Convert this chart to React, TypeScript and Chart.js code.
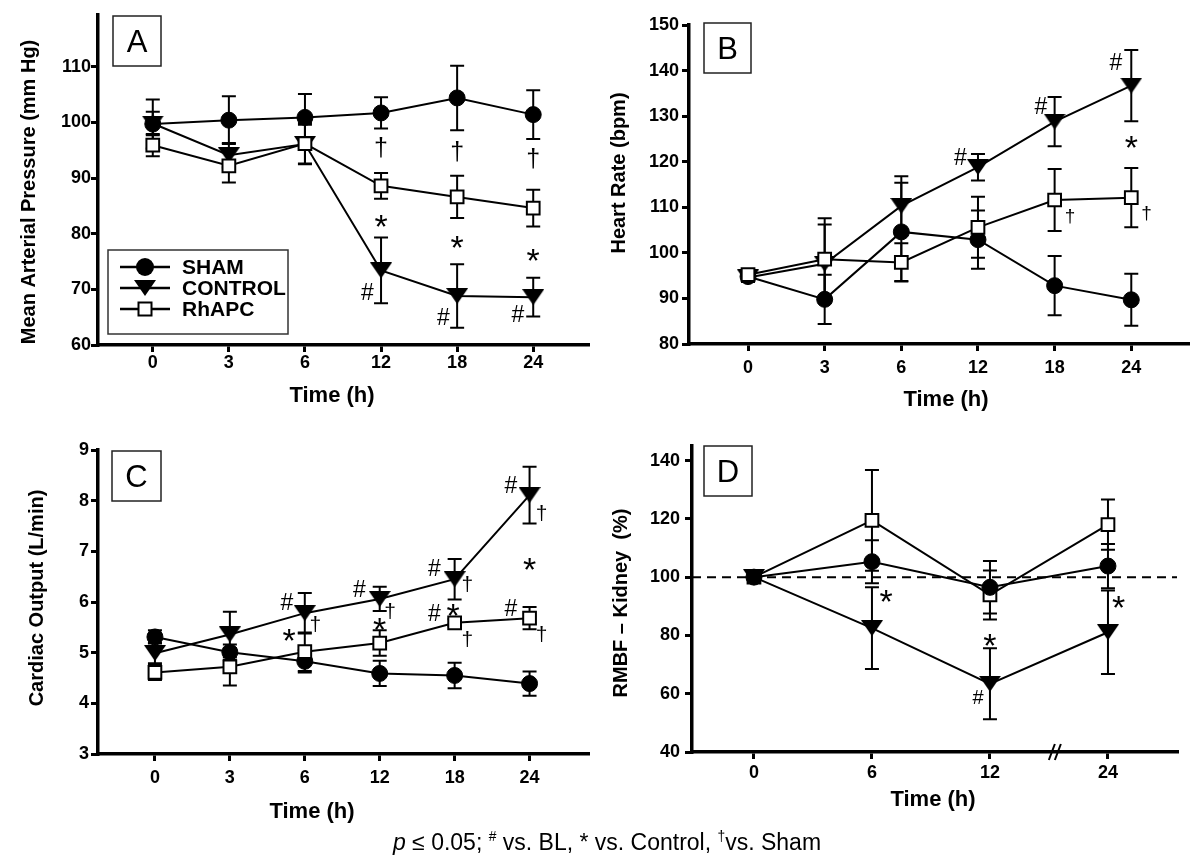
import React, { useEffect, useRef } from "react";
import { Chart, registerables } from "chart.js";

Chart.register(...registerables);

const FONT = "'Liberation Sans', Arial, Helvetica, sans-serif";

// ---------------- Data ----------------
const groupNames = ["SHAM", "CONTROL", "RhAPC"];

// Panel A – Mean Arterial Pressure
const timeLabelsA = ["0", "3", "6", "12", "18", "24"];
const ticksA = [60, 70, 80, 90, 100, 110];
const mapSham = [99.7, 100.4, 100.9, 101.7, 104.4, 101.4];
const mapShamErr = [4.4, 4.3, 4.2, 2.8, 5.8, 4.4];
const mapControl = [99.8, 94.1, 96.1, 73.4, 68.8, 68.6];
const mapControlErr = [2.1, 2.2, 3.5, 5.9, 5.7, 3.5];
const mapRhapc = [95.9, 92.2, 96.2, 88.6, 86.6, 84.6];
const mapRhapcErr = [2.0, 3.0, 3.7, 2.3, 3.8, 3.3];
const annA: [string, number, number][] = [
  ["†", 3, 95.3], ["†", 4, 94.6], ["†", 5, 93.4],
  ["*", 3, 82.6], ["*", 4, 78.9], ["*", 5, 76.5],
  ["#", 2.82, 69.6], ["#", 3.82, 65.1], ["#", 4.8, 65.7],
];

// Panel B – Heart Rate
const timeLabelsB = ["0", "3", "6", "12", "18", "24"];
const ticksB = [80, 90, 100, 110, 120, 130, 140, 150];
const hrSham = [94.8, 89.8, 104.6, 102.9, 92.8, 89.7];
const hrShamErr = [1.0, 5.4, 10.8, 6.4, 6.5, 5.7];
const hrControl = [94.6, 97.6, 110.3, 118.8, 128.8, 136.7];
const hrControlErr = [1.0, 8.6, 6.5, 2.9, 5.4, 7.8];
const hrRhapc = [95.2, 98.6, 97.9, 105.6, 111.6, 112.1];
const hrRhapcErr = [1.2, 9.0, 4.2, 6.7, 6.8, 6.5];
const annB: [string, number, number][] = [
  ["#", 2.77, 121.1], ["#", 3.82, 132.2], ["#", 4.8, 141.9],
  ["*", 5, 124.8], ["†", 4.2, 108.0], ["†", 5.2, 108.7],
];

// Panel C – Cardiac Output
const timeLabelsC = ["0", "3", "6", "12", "18", "24"];
const ticksC = [3, 4, 5, 6, 7, 8, 9];
const coSham = [5.31, 5.01, 4.83, 4.59, 4.55, 4.39];
const coShamErr = [0.13, 0.15, 0.22, 0.25, 0.25, 0.24];
const coControl = [4.99, 5.36, 5.78, 6.06, 6.45, 8.11];
const coControlErr = [0.2, 0.45, 0.4, 0.24, 0.4, 0.56];
const coRhapc = [4.61, 4.72, 5.02, 5.19, 5.59, 5.68];
const coRhapcErr = [0.15, 0.37, 0.38, 0.25, 0.07, 0.22];
const annC: [string, number, number][] = [
  ["#", 1.76, 6.0], ["†", 2.14, 5.55], ["*", 1.79, 5.38],
  ["#", 2.73, 6.27], ["†", 3.14, 5.81], ["*", 3.0, 5.61],
  ["#", 3.73, 6.67], ["†", 4.17, 6.34],
  ["#", 3.73, 5.78], ["*", 3.98, 5.88], ["†", 4.17, 5.25],
  ["#", 4.75, 8.31], ["†", 5.16, 7.75], ["*", 5.0, 6.8],
  ["#", 4.75, 5.88], ["†", 5.16, 5.35],
];

// Panel D – RMBF Kidney
const timeLabelsD = ["0", "6", "12", "24"];
const ticksD = [40, 60, 80, 100, 120, 140];
const rmbfSham = [100, 105.3, 96.5, 103.8];
const rmbfShamErr = [0, 7.4, 9.0, 7.6];
const rmbfControl = [100, 82.5, 63.4, 81.1];
const rmbfControlErr = [0, 14.0, 12.2, 14.3];
const rmbfRhapc = [100, 119.5, 93.9, 118.0];
const rmbfRhapcErr = [0, 17.3, 8.4, 8.6];
const baselineD = 100;
const axisBreakD = 2.55;
const annD: [string, number, number][] = [
  ["*", 1.12, 94.2], ["*", 2, 79.0], ["#", 1.9, 59.1], ["*", 3.09, 92.2],
];

// ---------------- Panel definitions ----------------
type Kind = "sham" | "control" | "rhapc";
type Series = { name: string; kind: Kind; values: number[]; errors: number[] };

interface PanelDef {
  letter: string;
  xLabels: string[];
  yTicks: number[];
  yMin: number;
  yMax: number;
  xMin: number;
  xMax: number;
  yTitle: string;
  xTitle: string;
  series: Series[];
  anns: [string, number, number][];
  legend?: boolean;
  baseline?: number;
  axisBreak?: number;
  shamOnTop?: boolean;
  annSizes: Record<string, number>;
  L: {
    left: number; top: number; width: number; height: number;
    padTop: number; padRight: number; yAxisWidth: number; xAxisHeight: number;
    xTickPad: number; yTickPad: number;
    yTitleX: number; yTitleY: number; xTitleX: number; xTitleY: number;
    box: [number, number, number, number];
  };
}

const mk = (vals: number[][], errs: number[][]): Series[] =>
  (["sham", "control", "rhapc"] as Kind[]).map((k, i) => ({
    name: groupNames[i], kind: k, values: vals[i], errors: errs[i],
  }));

const PANELS: PanelDef[] = [
  {
    letter: "A", xLabels: timeLabelsA, yTicks: ticksA, yMin: 60, yMax: 119.3,
    xMin: -0.72, xMax: 5.72,
    yTitle: "Mean Arterial Pressure (mm Hg)", xTitle: "Time (h)",
    series: mk([mapSham, mapControl, mapRhapc], [mapShamErr, mapControlErr, mapRhapcErr]),
    anns: annA, legend: true,
    annSizes: { "#": 23, "*": 34, "†": 25 },
    L: {
      left: 0, top: 0, width: 600, height: 420, padTop: 15, padRight: 12,
      yAxisWidth: 98, xAxisHeight: 75, xTickPad: 0, yTickPad: 0,
      yTitleX: 29, yTitleY: 192, xTitleX: 332, xTitleY: 396, box: [113, 16, 48, 50],
    },
  },
  {
    letter: "B", xLabels: timeLabelsB, yTicks: ticksB, yMin: 80, yMax: 150,
    xMin: -0.77, xMax: 5.74,
    yTitle: "Heart Rate (bpm)", xTitle: "Time (h)",
    series: mk([hrSham, hrControl, hrRhapc], [hrShamErr, hrControlErr, hrRhapcErr]),
    anns: annB,
    annSizes: { "#": 23, "*": 34, "†": 19 },
    L: {
      left: 600, top: 0, width: 600, height: 420, padTop: 25, padRight: 12,
      yAxisWidth: 89, xAxisHeight: 76, xTickPad: 6, yTickPad: 3,
      yTitleX: 19, yTitleY: 173, xTitleX: 346, xTitleY: 400, box: [104, 23, 47, 50],
    },
  },
  {
    letter: "C", xLabels: timeLabelsC, yTicks: ticksC, yMin: 3, yMax: 9,
    xMin: -0.76, xMax: 5.78,
    yTitle: "Cardiac Output (L/min)", xTitle: "Time (h)",
    series: mk([coSham, coControl, coRhapc], [coShamErr, coControlErr, coRhapcErr]),
    anns: annC,
    annSizes: { "#": 23, "*": 34, "†": 21 },
    L: {
      left: 0, top: 420, width: 600, height: 443, padTop: 30, padRight: 12,
      yAxisWidth: 98, xAxisHeight: 109, xTickPad: 6, yTickPad: 2,
      yTitleX: 37, yTitleY: 178, xTitleX: 312, xTitleY: 392, box: [112, 31, 49, 50],
    },
  },
  {
    letter: "D", xLabels: timeLabelsD, yTicks: ticksD, yMin: 40, yMax: 145,
    xMin: -0.525, xMax: 3.585,
    yTitle: "RMBF – Kidney  (%)", xTitle: "Time (h)",
    series: mk([rmbfSham, rmbfControl, rmbfRhapc], [rmbfShamErr, rmbfControlErr, rmbfRhapcErr]),
    anns: annD, baseline: baselineD, axisBreak: axisBreakD, shamOnTop: true,
    annSizes: { "#": 20, "*": 34, "†": 21 },
    L: {
      left: 600, top: 420, width: 600, height: 443, padTop: 26, padRight: 23,
      yAxisWidth: 92, xAxisHeight: 111, xTickPad: 3, yTickPad: 5,
      yTitleX: 21, yTitleY: 183, xTitleX: 333, xTitleY: 380, box: [104, 26, 48, 50],
    },
  },
];

// ---------------- Drawing helpers ----------------
function makeTriangle(w: number, h: number): HTMLCanvasElement {
  const c = document.createElement("canvas");
  c.width = w;
  c.height = h;
  const g = c.getContext("2d")!;
  g.fillStyle = "#000";
  g.beginPath();
  g.moveTo(0, 0);
  g.lineTo(w, 0);
  g.lineTo(w / 2, h);
  g.closePath();
  g.fill();
  return c;
}

function drawMarker(ctx: CanvasRenderingContext2D, kind: Kind, x: number, y: number, tri: HTMLCanvasElement) {
  ctx.save();
  ctx.lineWidth = 2;
  ctx.strokeStyle = "#000";
  if (kind === "sham") {
    ctx.fillStyle = "#000";
    ctx.beginPath();
    ctx.arc(x, y, 9, 0, Math.PI * 2);
    ctx.fill();
  } else if (kind === "control") {
    ctx.drawImage(tri, x - tri.width / 2, y - tri.height / 2);
  } else {
    ctx.fillStyle = "#fff";
    ctx.fillRect(x - 6.5, y - 6.5, 13, 13);
    ctx.strokeRect(x - 6.5, y - 6.5, 13, 13);
  }
  ctx.restore();
}

function panelPlugin(p: PanelDef, tri: HTMLCanvasElement) {
  return {
    id: "panel" + p.letter,
    beforeDatasetsDraw(chart: any) {
      const { ctx, chartArea: ca } = chart;
      const xs = chart.scales.x;
      const ys = chart.scales.y;
      ctx.save();
      ctx.strokeStyle = "#000";
      if (p.baseline !== undefined) {
        const py = ys.getPixelForValue(p.baseline);
        ctx.lineWidth = 2;
        ctx.setLineDash([9, 6]);
        ctx.beginPath();
        ctx.moveTo(ca.left, py);
        ctx.lineTo(ca.right, py);
        ctx.stroke();
        ctx.setLineDash([]);
      }
      ctx.lineWidth = 2;
      p.series.forEach((s) =>
        s.values.forEach((v, i) => {
          const e = s.errors[i];
          if (!e) return;
          const px = xs.getPixelForValue(i);
          const t = ys.getPixelForValue(v + e);
          const b = ys.getPixelForValue(v - e);
          ctx.beginPath();
          ctx.moveTo(px, t);
          ctx.lineTo(px, b);
          ctx.moveTo(px - 7, t);
          ctx.lineTo(px + 7, t);
          ctx.moveTo(px - 7, b);
          ctx.lineTo(px + 7, b);
          ctx.stroke();
        })
      );
      ctx.restore();
    },
    afterDraw(chart: any) {
      const { ctx, chartArea: ca } = chart;
      const xs = chart.scales.x;
      const ys = chart.scales.y;
      const L = p.L;
      ctx.save();
      ctx.fillStyle = "#000";
      ctx.strokeStyle = "#000";

      // significance annotations
      ctx.textAlign = "center";
      ctx.textBaseline = "alphabetic";
      p.anns.forEach(([sym, xi, yv]) => {
        const size = p.annSizes[sym] || 22;
        ctx.font = `${size}px ${FONT}`;
        const lift = sym === "*" ? 0.56 : sym === "#" ? 0.36 : 0.3;
        ctx.fillText(sym, xs.getPixelForValue(xi), ys.getPixelForValue(yv) + lift * size);
      });

      // panel letter box
      const [bx, by, bw, bh] = L.box;
      ctx.fillStyle = "#fff";
      ctx.fillRect(bx, by, bw, bh);
      ctx.lineWidth = 1.5;
      ctx.strokeStyle = "#222";
      ctx.strokeRect(bx, by, bw, bh);
      ctx.fillStyle = "#000";
      ctx.font = `31px ${FONT}`;
      ctx.textBaseline = "middle";
      ctx.fillText(p.letter, bx + bw / 2, by + bh / 2 + 2);

      // legend
      if (p.legend) {
        ctx.lineWidth = 1.5;
        ctx.strokeStyle = "#333";
        ctx.strokeRect(108, 250, 180, 84);
        const rows = [267, 288, 309];
        p.series.forEach((s, i) => {
          const y = rows[i];
          ctx.strokeStyle = "#000";
          ctx.lineWidth = 2.5;
          ctx.beginPath();
          ctx.moveTo(120, y);
          ctx.lineTo(170, y);
          ctx.stroke();
          drawMarker(ctx, s.kind, 145, y, tri);
          ctx.fillStyle = "#000";
          ctx.font = `bold 21px ${FONT}`;
          ctx.textAlign = "left";
          ctx.textBaseline = "middle";
          ctx.fillText(s.name, 182, y + 1);
        });
      }

      // axis break marks
      if (p.axisBreak !== undefined) {
        const bxp = xs.getPixelForValue(p.axisBreak);
        const yb = ca.bottom;
        ctx.lineWidth = 2;
        ctx.strokeStyle = "#000";
        [-3, 3].forEach((d) => {
          ctx.beginPath();
          ctx.moveTo(bxp + d - 3, yb + 8);
          ctx.lineTo(bxp + d + 3, yb - 8);
          ctx.stroke();
        });
      }

      // axis titles
      ctx.fillStyle = "#000";
      ctx.textAlign = "center";
      ctx.textBaseline = "middle";
      ctx.font = `bold 22px ${FONT}`;
      ctx.fillText(p.xTitle, L.xTitleX, L.xTitleY);
      ctx.font = `bold 20px ${FONT}`;
      ctx.translate(L.yTitleX, L.yTitleY);
      ctx.rotate(-Math.PI / 2);
      ctx.fillText(p.yTitle, 0, 0);
      ctx.restore();
    },
  };
}

function buildChart(canvas: HTMLCanvasElement, p: PanelDef) {
  const tri = makeTriangle(22, 16);
  const styleFor = (k: Kind) => {
    if (k === "sham")
      return { pointStyle: "circle", pointRadius: 8, pointBackgroundColor: "#000", pointBorderColor: "#000", pointBorderWidth: 1, order: p.shamOnTop ? -1 : 2 };
    if (k === "control")
      return { pointStyle: tri, pointRadius: 10, pointBackgroundColor: "#000", pointBorderColor: "#000", pointBorderWidth: 0, order: 1 };
    return { pointStyle: "rect", pointRadius: 9, pointBackgroundColor: "#fff", pointBorderColor: "#000", pointBorderWidth: 2, order: 0 };
  };
  const datasets = p.series.map((s) => ({
    label: s.name,
    data: s.values.map((v, i) => ({ x: i, y: v })),
    showLine: true,
    borderColor: "#000",
    borderWidth: 2,
    ...styleFor(s.kind),
  }));
  const tickFont = { family: FONT, size: 18, weight: "bold" as const };
  const grid = { display: true, drawOnChartArea: false, drawTicks: true, tickLength: 7, lineWidth: 3, color: "#000" };
  const border = { display: true, width: 3.5, color: "#000" };
  return new Chart(canvas, {
    type: "scatter",
    data: { datasets: datasets as any },
    options: {
      animation: false,
      responsive: false,
      devicePixelRatio: 1,
      layout: { padding: { top: p.L.padTop, right: p.L.padRight, left: 0, bottom: 0 } },
      plugins: { legend: { display: false }, tooltip: { enabled: false }, title: { display: false } },
      scales: {
        x: {
          type: "linear",
          min: p.xMin,
          max: p.xMax,
          afterBuildTicks: (s: any) => { s.ticks = p.xLabels.map((_, i) => ({ value: i })); },
          afterFit: (s: any) => { s.height = p.L.xAxisHeight; },
          ticks: {
            callback: (v: any) => p.xLabels[Math.round(Number(v))] ?? "",
            font: tickFont, color: "#000", padding: p.L.xTickPad, maxRotation: 0, autoSkip: false,
          },
          grid, border,
        },
        y: {
          type: "linear",
          min: p.yMin,
          max: p.yMax,
          afterBuildTicks: (s: any) => { s.ticks = p.yTicks.map((v) => ({ value: v })); },
          afterFit: (s: any) => { s.width = p.L.yAxisWidth; },
          ticks: { callback: (v: any) => String(v), font: tickFont, color: "#000", padding: p.L.yTickPad, autoSkip: false },
          grid, border,
        },
      },
    } as any,
    plugins: [panelPlugin(p, tri)],
  });
}

function Panel({ p }: { p: PanelDef }) {
  const ref = useRef<HTMLCanvasElement>(null);
  useEffect(() => {
    const chart = buildChart(ref.current!, p);
    return () => chart.destroy();
  }, [p]);
  const L = p.L;
  return (
    <canvas
      ref={ref}
      width={L.width}
      height={L.height}
      style={{ position: "absolute", left: L.left, top: L.top, width: L.width, height: L.height }}
    />
  );
}

export default function App() {
  return (
    <div style={{ position: "absolute", left: 0, top: 0, width: 1200, height: 863, background: "#fff", overflow: "hidden" }}>
      {PANELS.map((p) => (
        <Panel key={p.letter} p={p} />
      ))}
      <div
        style={{
          position: "absolute", left: 607, top: 824, transform: "translateX(-50%)",
          whiteSpace: "nowrap", fontFamily: FONT, fontSize: 23, lineHeight: "26px", color: "#000",
        }}
      >
        <i>p</i> ≤ 0.05; <sup style={{ fontSize: "0.6em" }}>#</sup> vs. BL, * vs. Control, <sup style={{ fontSize: "0.6em" }}>†</sup>vs. Sham
      </div>
    </div>
  );
}
